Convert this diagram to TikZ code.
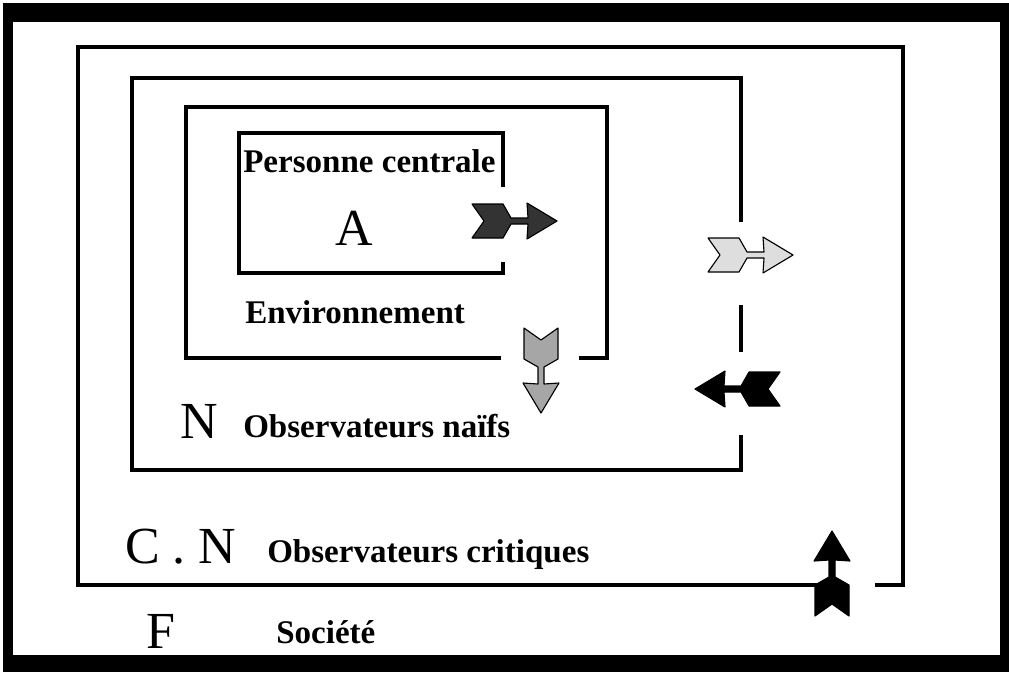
\documentclass[tikz,border=0pt]{standalone}
\usepackage{fontspec}
\setmainfont{Liberation Serif}
\tikzset{
    lbl/.style={inner sep=0pt, font=\fontsize{23.5}{25}\selectfont\bfseries},
    big/.style={inner sep=0pt, font=\fontsize{37}{39}\selectfont},
    frame/.style={line width=3pt},
    dart/.pic={
        \filldraw[fill=#1, line width=0.8pt, line join=round]
            (0, -17) -- (31, -17) -- (39, -3) -- (56, -3) -- (55, -18) -- (85, 0)
            -- (55, 18) -- (56, 3) -- (39, 3) -- (31, 17) -- (0, 17) -- (12, 0) -- cycle;
    }
}
\begin{document}
\begin{tikzpicture}[x=0.25mm, y=-0.25mm]
            \useasboundingbox (0, 0) rectangle (1009, 672);
            \fill (3, 3) rectangle (1009, 672);
            \fill[white] (13, 22) rectangle (1000, 655);
            % boxes
            \draw[frame] (820, 585) -- (78, 585) -- (78, 47) -- (903, 47) -- (903, 585) -- (875, 585);
            \draw[frame] (741, 222) -- (741, 78) -- (132, 78) -- (132, 470) -- (741, 470) -- (741, 435);
            \draw[frame] (741, 305) -- (741, 352);
            \draw[frame] (501, 358) -- (186, 358) -- (186, 107) -- (607, 107) -- (607, 358) -- (579, 358);
            \draw[frame] (503, 187) -- (503, 133) -- (239, 133) -- (239, 273) -- (503, 273) -- (503, 262);
            % arrows
            \pic at (472, 221) {dart=black!80};
            \pic at (708, 255) {dart=black!13};
            \pic[rotate=-90] at (541, 328) {dart=black!35};
            \pic[rotate=180] at (780, 389) {dart=black};
            \pic[rotate=90] at (832, 616) {dart=black};
            % texts
            \node (pers) at (243, 172) [lbl, anchor=base west] {Personne centrale};
            \node (a) at (354, 245) [big, anchor=base] {A};
            \node (env) at (245, 323) [lbl, anchor=base west] {Environnement};
            \node (n) at (180, 438) [big, anchor=base west] {N};
            \node (naif) at (243, 437) [lbl, anchor=base west] {Observateurs naïfs};
            \node (cn) at (125, 563) [big, anchor=base west] {C . N};
            \node (crit) at (267, 562) [lbl, anchor=base west] {Observateurs critiques};
            \node (f) at (146, 648) [big, anchor=base west] {F};
            \node (soc) at (276, 643) [lbl, anchor=base west] {Société};
        \end{tikzpicture}
\end{document}
